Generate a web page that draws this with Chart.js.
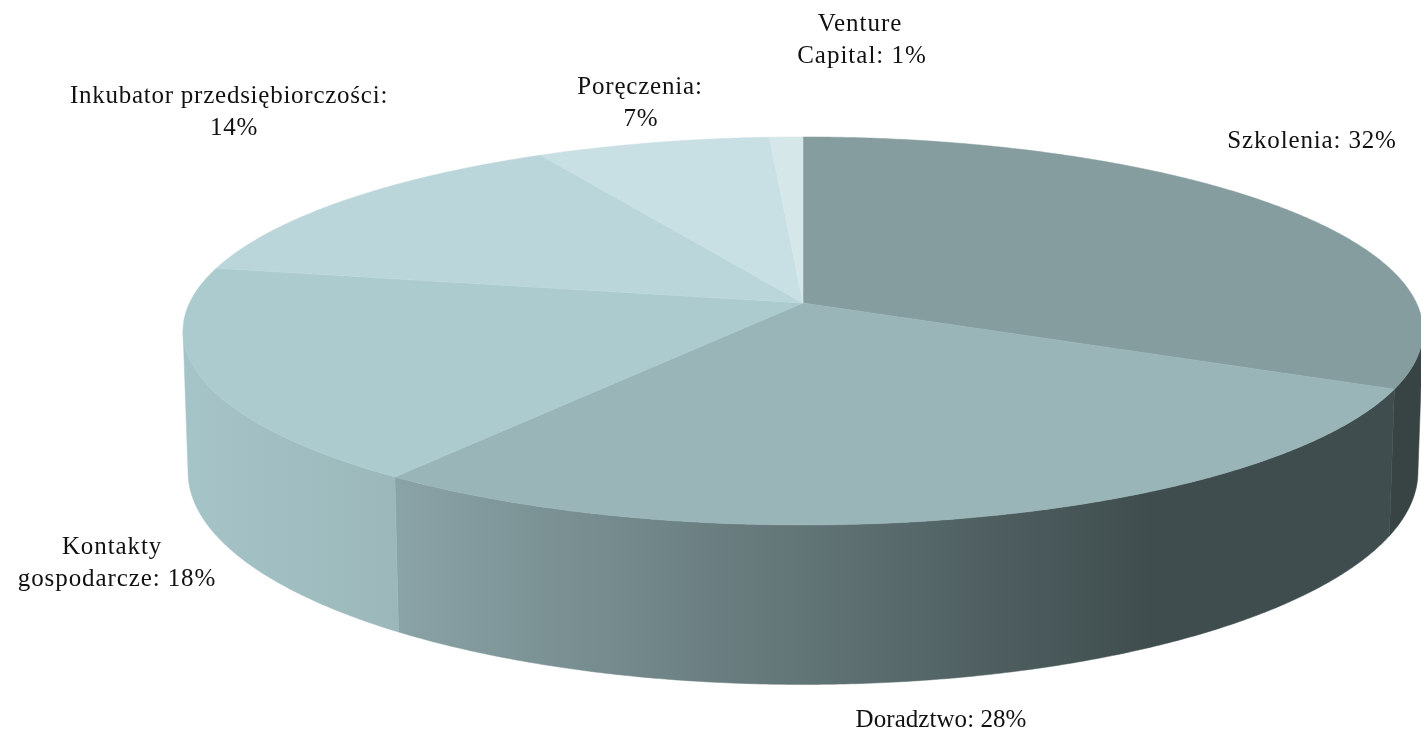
<!DOCTYPE html>
<html lang="pl">
<head>
<meta charset="utf-8">
<title>Formy wsparcia</title>
<script src="https://cdn.jsdelivr.net/npm/chart.js@4/dist/chart.umd.min.js"></script>
<style>
  html, body { margin: 0; padding: 0; background: #fff; overflow: hidden; }
  canvas { display: block; }
</style>
</head>
<body>
<canvas id="pieChart" width="1421" height="732"></canvas>
<script>
  // ── Data ──
  var categories = ['Szkolenia', 'Doradztwo', 'Kontakty gospodarcze', 'Inkubator przedsiębiorczości', 'Poręczenia', 'Venture Capital'];
  var shares = [32, 28, 18, 14, 7, 1];

  // ── Styles ──
  var topColors = ['#869DA0', '#99B5B8', '#ABCBCE', '#BBD6DB', '#C8DFE3', '#D6E7EA'];
  // wall gradient per slice: [x0, x1, colour at x0, colour at x1]
  var wallColors = [
    [1390, 1421, '#374443', '#374443'],
    [398, 1150, '#8AA3A6', '#3F4D4E'],
    [188, 398, '#A5C4C7', '#9BB7BA'],
    [188, 398, '#A5C4C7', '#A5C4C7'],
    [188, 398, '#A5C4C7', '#A5C4C7'],
    [188, 398, '#A5C4C7', '#A5C4C7']
  ];
  // label anchors: words = how many words go on the first line (0 = one line),
  // shift = x offset of the second line, gap = letter spacing
  var labelSpots = [
    { x: 1312, y: 141, words: 0, shift: 0, gap: 0.85 },
    { x: 941, y: 720, words: 0, shift: 0, gap: 0.05 },
    { x: 112, y: 547, words: 1, shift: 5, gap: 0.9 },
    { x: 229, y: 96, words: 2, shift: 5, gap: 0.75 },
    { x: 640, y: 87, words: 1, shift: 1, gap: 0.8 },
    { x: 860, y: 24, words: 1, shift: 2, gap: 1 }
  ];

  // ── Perspective of the disc (fitted to the picture) ──
  var CX = 803, CY = 303, SX = 613.5, SY = 190, TILT = 0.144;
  var DEPTH = 139.6, SHRINK = 0.008;

  function project(angle, z) {
    var u = Math.cos(angle), v = Math.sin(angle);
    var w = 1 - TILT * v + SHRINK * z;
    return { x: CX + SX * u / w, y: CY + (SY * v + DEPTH * z) / w };
  }

  function ringAngles(start, end) {
    var out = [], n = Math.max(2, Math.ceil((end - start) / 0.008));
    for (var i = 0; i <= n; i++) out.push(start + (end - start) * i / n);
    return out;
  }

  // Arc element that takes its angles from the controller and draws them in perspective
  class DiscArc extends Chart.ArcElement {
    drawWall(ctx) {
      var c = wallColors[this.$context.dataIndex];
      // only the part of the rim that faces the viewer, up to the side tangents
      var angles = ringAngles(this.startAngle, this.endAngle).filter(function(a) {
        return Math.sin(a) >= TILT - 0.004;
      });
      if (angles.length < 2) return;
      var grad = ctx.createLinearGradient(c[0], 0, c[1], 0);
      grad.addColorStop(0, c[2]);
      grad.addColorStop(1, c[3]);
      ctx.beginPath();
      angles.forEach(function(a, i) {
        var p = project(a, 0);
        if (i === 0) ctx.moveTo(p.x, p.y); else ctx.lineTo(p.x, p.y);
      });
      angles.slice().reverse().forEach(function(a) {
        var p = project(a, 1);
        ctx.lineTo(p.x, p.y);
      });
      ctx.closePath();
      ctx.fillStyle = grad;
      ctx.strokeStyle = grad;
      ctx.lineWidth = 0.5;
      ctx.fill();
      ctx.stroke();
    }
    draw(ctx) {
      ctx.beginPath();
      ctx.moveTo(CX, CY);
      ringAngles(this.startAngle, this.endAngle).forEach(function(a) {
        var p = project(a, 0);
        ctx.lineTo(p.x, p.y);
      });
      ctx.closePath();
      ctx.fillStyle = this.options.backgroundColor;
      ctx.strokeStyle = this.options.backgroundColor;
      ctx.lineWidth = 0.5;
      ctx.fill();
      ctx.stroke();
    }
  }
  DiscArc.id = 'discArc';
  DiscArc.defaults = Chart.ArcElement.defaults;
  DiscArc.defaultRoutes = Chart.ArcElement.defaultRoutes;

  class DiscController extends Chart.PieController {
    draw() {
      var ctx = this.chart.ctx;
      var arcs = this._cachedMeta.data;
      arcs.forEach(function(a) { a.drawWall(ctx); });
      arcs.forEach(function(a) { a.draw(ctx); });
    }
  }
  DiscController.id = 'discPie';
  DiscController.defaults = { dataElementType: 'discArc' };

  Chart.register(DiscArc, DiscController);

  var sliceLabels = {
    id: 'sliceLabels',
    afterDraw: function(chart) {
      var ctx = chart.ctx;
      ctx.save();
      ctx.font = '25px "Liberation Serif"';
      ctx.fillStyle = '#111';
      ctx.textAlign = 'center';
      ctx.textBaseline = 'middle';
      chart.data.labels.forEach(function(name, i) {
        var spot = labelSpots[i];
        var words = (name + ': ' + chart.data.datasets[0].data[i] + '%').split(' ');
        ctx.letterSpacing = spot.gap + 'px';
        if (spot.words) {
          ctx.fillText(words.slice(0, spot.words).join(' '), spot.x, spot.y);
          ctx.fillText(words.slice(spot.words).join(' '), spot.x + spot.shift, spot.y + 32);
        } else {
          ctx.fillText(words.join(' '), spot.x, spot.y);
        }
      });
      ctx.restore();
    }
  };

  var chart = new Chart(document.getElementById('pieChart').getContext('2d'), {
    type: 'discPie',
    data: {
      labels: categories,
      datasets: [{ data: shares, backgroundColor: topColors, borderWidth: 0 }]
    },
    options: {
      responsive: false,
      animation: false,
      plugins: {
        legend: { display: false },
        tooltip: { enabled: false }
      }
    },
    plugins: [sliceLabels]
  });
</script>
</body>
</html>
